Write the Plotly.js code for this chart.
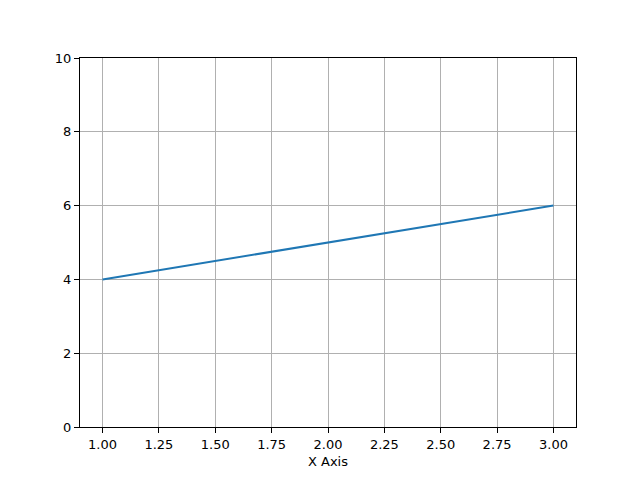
<!DOCTYPE html>
<html>
<head>
<meta charset="utf-8">
<script src="https://cdn.plot.ly/plotly-3.0.1.min.js"></script>
<style>html,body{margin:0;padding:0;background:#fff;}#chart{width:640px;height:480px;}</style>
</head>
<body>
<div id="chart"></div>
<script>
var xValues = [1, 2, 3];
var yValues = [4, 5, 6];
var xTickVals = [1.0, 1.25, 1.5, 1.75, 2.0, 2.25, 2.5, 2.75, 3.0];
var xTickText = ["1.00", "1.25", "1.50", "1.75", "2.00", "2.25", "2.50", "2.75", "3.00"];
var yTickVals = [0, 2, 4, 6, 8, 10];

var trace = {
  x: xValues, y: yValues, type: 'scatter', mode: 'lines',
  line: {color: '#1f77b4', width: 2}
};
var axisCommon = {
  showline: true, linecolor: '#000', linewidth: 1, mirror: true,
  ticks: 'outside', ticklen: 5, tickwidth: 1, tickcolor: '#000',
  showgrid: true, gridcolor: '#b0b0b0', gridwidth: 1,
  zeroline: false, tickfont: {family: 'DejaVu Sans', size: 13, color: '#000'}
};
var layout = {
  width: 640, height: 480,
  margin: {l: 80, r: 64, t: 58, b: 53},
  paper_bgcolor: '#fff', plot_bgcolor: '#fff',
  showlegend: false,
  font: {family: 'DejaVu Sans', size: 13, color: '#000'},
  xaxis: Object.assign({}, axisCommon, {
    range: [0.9, 3.1], tickmode: 'array', tickvals: xTickVals, ticktext: xTickText,
    title: {text: 'X Axis', font: {family: 'DejaVu Sans', size: 13, color: '#000'}, standoff: 6}
  }),
  yaxis: Object.assign({}, axisCommon, {
    range: [0, 10], tickmode: 'array', tickvals: yTickVals
  })
};
Plotly.newPlot('chart', [trace], layout, {displayModeBar: false, staticPlot: true});
</script>
</body>
</html>
